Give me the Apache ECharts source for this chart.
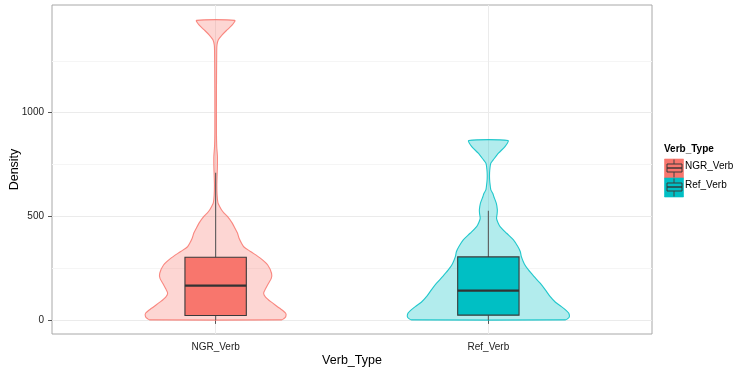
<!DOCTYPE html>
<html><head><meta charset="utf-8">
<script src="https://cdn.jsdelivr.net/npm/echarts@6/dist/echarts.min.js"></script>
<style>html,body{margin:0;padding:0;background:#fff}#c{width:736px;height:367px}</style>
</head><body><div id="c"></div>
<script>
const categories = ['NGR_Verb', 'Ref_Verb'];
const colors = ['#F8766D', '#00BFC4'];
const yTicks = [0, 500, 1000];
const yMinorTicks = [250, 750, 1250];

// violin density profiles: value level -> half width (x-axis units)
const ngrLevels = [1445,1423,1399,1375,1351,1327,1300,1100,900,836,790,740,700,650,600,564,547,530,515,498,467,440,419,394,370,353,330,297,265,225,200,177,150,129,110,88,56,32,15,5,0];
const ngrHalfWidth = [0.070,0.061,0.042,0.024,0.010,0.005,0.004,0.003,0.003,0.004,0.0065,0.0065,0.0055,0.0044,0.0055,0.0085,0.0147,0.022,0.031,0.044,0.061,0.072,0.080,0.086,0.095,0.103,0.128,0.165,0.191,0.205,0.204,0.194,0.183,0.176,0.183,0.202,0.235,0.257,0.257,0.249,0.242];
const refLevels = [865,836,804,772,756,740,709,680,650,627,610,595,563,531,510,490,470,450,418,386,354,330,305,270,241,210,177,145,112,85,64,45,32,15,5,0];
const refHalfWidth = [0.072,0.061,0.037,0.018,0.009,0.0066,0.0044,0.0044,0.0066,0.0092,0.0165,0.020,0.029,0.033,0.032,0.030,0.035,0.043,0.067,0.092,0.108,0.117,0.121,0.132,0.147,0.167,0.190,0.209,0.227,0.246,0.268,0.286,0.295,0.297,0.290,0.282];

// boxplot stats: [lower whisker, q1, median, q3, upper whisker]
const ngrBox = [0, 21, 165, 302, 710];
const refBox = [0, 23, 141, 304, 526];

const violins = [[ngrLevels, ngrHalfWidth], [refLevels, refHalfWidth]];
const boxes = [ngrBox, refBox];
const boxHalf = 0.1125;

function hexA(h, a) {
  const r = parseInt(h.slice(1,3),16), g = parseInt(h.slice(3,5),16), b = parseInt(h.slice(5,7),16);
  return 'rgba(' + r + ',' + g + ',' + b + ',' + a + ')';
}
function violinItem(params, api) {
  const i = params.dataIndex;
  const cx = i + 1;
  const lv = violins[i][0], hw = violins[i][1];
  const pts = [];
  for (let k = 0; k < lv.length; k++) pts.push(api.coord([cx + hw[k], lv[k]]));
  for (let k = lv.length - 1; k >= 0; k--) pts.push(api.coord([cx - hw[k], lv[k]]));
  const c = colors[i];
  return {
    type: 'polygon',
    shape: { points: pts, smooth: 0.25 },
    style: { fill: hexA(c, 0.3), stroke: hexA(c, 0.85), lineWidth: 1.1 }
  };
}
function boxItem(params, api) {
  const i = params.dataIndex;
  const cx = i + 1;
  const b = boxes[i];
  const pLow = api.coord([cx, b[0]]), pQ1 = api.coord([cx, b[1]]);
  const pQ3 = api.coord([cx, b[3]]), pHigh = api.coord([cx, b[4]]);
  const l = api.coord([cx - boxHalf, b[2]]), r = api.coord([cx + boxHalf, b[2]]);
  const wl = { stroke: '#5a5a5a', lineWidth: 1.1 };
  return {
    type: 'group',
    children: [
      { type: 'line', shape: { x1: pLow[0], y1: pLow[1], x2: pQ1[0], y2: pQ1[1] }, style: wl },
      { type: 'line', shape: { x1: pQ3[0], y1: pQ3[1], x2: pHigh[0], y2: pHigh[1] }, style: wl },
      { type: 'rect', shape: { x: l[0], y: pQ3[1], width: r[0] - l[0], height: pQ1[1] - pQ3[1] },
        style: { fill: colors[i], stroke: '#3a3a3a', lineWidth: 1.1 } },
      { type: 'line', shape: { x1: l[0], y1: l[1], x2: r[0], y2: r[1] }, style: { stroke: '#333', lineWidth: 2.2 } }
    ]
  };
}

const gridLines = [];
yMinorTicks.forEach(v => gridLines.push({ yAxis: v, lineStyle: { color: '#F5F5F5' } }));
yTicks.forEach(v => gridLines.push({ yAxis: v, lineStyle: { color: '#EBEBEB' } }));
[1, 2].forEach(v => gridLines.push({ xAxis: v, lineStyle: { color: '#EBEBEB' } }));

// legend graphics
const legendGraphics = [{
  type: 'text', left: 664, top: 144,
  style: { text: 'Verb_Type', font: 'bold 10px "Liberation Sans", Arial, sans-serif', fill: '#000' }
}];
categories.forEach((name, i) => {
  const y0 = 157 + i * 19;
  legendGraphics.push({
    type: 'group', left: 664, top: y0,
    children: [
      { type: 'rect', shape: { x: 0, y: 0, width: 19, height: 19 }, style: { fill: colors[i], stroke: hexA(colors[i], 0.6), lineWidth: 1 } },
      { type: 'line', shape: { x1: 9.5, y1: 0.5, x2: 9.5, y2: 5 }, style: { stroke: '#444', lineWidth: 1 } },
      { type: 'line', shape: { x1: 9.5, y1: 13, x2: 9.5, y2: 18.5 }, style: { stroke: '#444', lineWidth: 1 } },
      { type: 'rect', shape: { x: 2.5, y: 5, width: 15, height: 8 }, style: { fill: 'none', stroke: '#3a3a3a', lineWidth: 1 } },
      { type: 'line', shape: { x1: 2.5, y1: 9, x2: 17.5, y2: 9 }, style: { stroke: '#333', lineWidth: 1.4 } }
    ]
  });
  legendGraphics.push({
    type: 'text', left: 685, top: y0 + 4,
    style: { text: name, font: '10px "Liberation Sans", Arial, sans-serif', fill: '#000' }
  });
});

const chart = echarts.init(document.getElementById('c'), null, { renderer: 'canvas' });
chart.setOption({
  animation: false,
  backgroundColor: '#fff',
  textStyle: { fontFamily: '"Liberation Sans", Arial, sans-serif' },
  grid: { left: 52, top: 5, width: 600, height: 329, containLabel: false, outerBoundsMode: 'none',
          show: true, borderColor: '#A8A8A8', borderWidth: 1, backgroundColor: 'transparent' },
  xAxis: {
    type: 'value', min: 0.4, max: 2.6,
    axisLine: { show: false },
    splitLine: { show: false },
    axisTick: { show: true, customValues: [1, 2], length: 4, lineStyle: { color: '#555' } },
    axisLabel: { customValues: [1, 2], formatter: v => categories[Math.round(v) - 1], fontSize: 10, color: '#222', margin: 8 },
    name: 'Verb_Type', nameLocation: 'middle', nameGap: 20, nameMoveOverlap: false,
    nameTextStyle: { fontSize: 12.5, color: '#000' }
  },
  yAxis: {
    type: 'value', min: -68, max: 1519,
    axisLine: { show: false },
    splitLine: { show: false },
    axisTick: { show: true, customValues: yTicks, length: 4, lineStyle: { color: '#555' } },
    axisLabel: { customValues: yTicks, formatter: v => String(v), fontSize: 10, color: '#222', margin: 8 },
    name: 'Density', nameLocation: 'middle', nameGap: 31, nameRotate: 90, nameMoveOverlap: false,
    nameTextStyle: { fontSize: 12.5, color: '#000' }
  },
  graphic: legendGraphics,
  series: [
    { type: 'line', data: [], silent: true, z: 0,
      markLine: { silent: true, z: 0, symbol: 'none', label: { show: false }, lineStyle: { type: 'solid', width: 1 }, data: gridLines, animation: false } },
    { type: 'custom', name: 'violin', renderItem: violinItem, data: [[1, 0], [2, 0]], z: 2, silent: true },
    { type: 'custom', name: 'box', renderItem: boxItem, data: [[1, 0], [2, 0]], z: 3, silent: true }
  ]
});
</script></body></html>
